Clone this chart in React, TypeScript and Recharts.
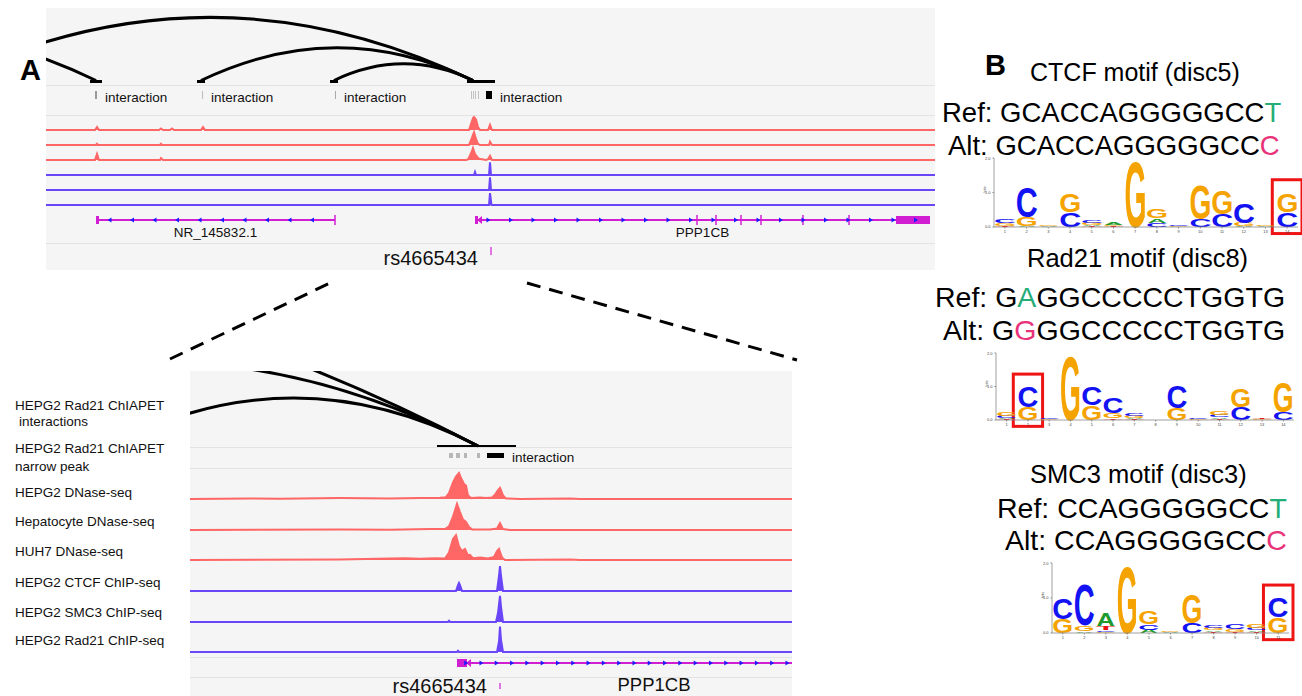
import React from 'react';
import { AreaChart, Area, BarChart, Bar, XAxis, YAxis, ReferenceArea } from 'recharts';

const FONT = '"Liberation Sans", Arial, Helvetica, sans-serif';
const RED = '#ff6666';
const BLUE = '#6a46f8';
const MAGENTA = '#d21ed2';
const ARROW = '#1c1cff';
const PANEL_BG = '#f5f5f5';
const SEP = '#e3e3e3';

type Span = [number, number];
type Pt = [number, number];

// ---------- panel A, top (window units 0..889) ----------
const topArcSpans: Span[] = [[-99, 427], [-400, 50], [155, 427], [288, 427]];
const topAnchorSpans: Span[] = [[44, 56], [151, 159], [284, 292], [421, 449]];
const topFeatureSpans: Span[] = [[49, 51], [156, 157], [289, 290], [425, 426], [427, 428], [429, 430], [432, 433], [440, 446]];
const topFeatureScores = [350, 200, 280, 180, 180, 180, 180, 1000];

const topHepg2Dnase: Pt[] = [[0, 0], [49, 0], [51, 20], [53, 0], [113, 0], [115, 10], [117, 0], [124, 0], [126, 10], [128, 0], [155, 0], [157, 20], [159, 0], [423, 0], [425, 40], [427, 80], [428, 87], [430, 70], [432, 20], [434, 0], [442, 0], [444, 35], [446, 0], [889, 0]];
const topHepatocyteDnase: Pt[] = [[0, 0], [50, 0], [51, 8], [52, 0], [114, 0], [115, 8], [116, 0], [423, 0], [426, 50], [428, 85], [430, 40], [432, 8], [434, 0], [443, 0], [444, 22], [446, 0], [889, 0]];
const topHuh7Dnase: Pt[] = [[0, 0], [49, 0], [51, 40], [53, 0], [114, 0], [115, 12], [117, 0], [420, 0], [422, 4], [424, 30], [426, 60], [427, 80], [429, 40], [431, 22], [433, 8], [436, 5], [440, 0], [442, 5], [444, 28], [446, 0], [889, 0]];
const topCtcf: Pt[] = [[0, 0], [428, 0], [429, 20], [430, 0], [443, 0], [444, 85], [445, 0], [889, 0]];
const topSmc3: Pt[] = [[0, 0], [443, 0], [444, 85], [445, 0], [889, 0]];
const topRad21: Pt[] = [[0, 0], [443, 0], [444, 80], [445.5, 0], [889, 0]];

const topGeneNames = ['NR_145832.1', 'PPP1CB'];
const topGeneSpans: Span[] = [[50, 289], [429, 884]];
const topGeneStrands = ['-', '+'];
const topGeneExons = [[289], [651, 670, 695, 715, 757, 803]];
const topGeneThick: Span[][] = [[[50, 53]], [[429, 432], [850, 884]]];
const topSnp = 445;

// ---------- panel A, bottom (zoomed window units 0..602) ----------
const botArcSpans: Span[] = [[-81, 288], [-360, 288], [-1212, 288]];
const botAnchorSpans: Span[] = [[247, 326]];
const botFeatureSpans: Span[] = [[259, 263], [266, 270], [274, 277], [287, 290], [297, 314]];
const botFeatureScores = [220, 220, 220, 220, 1000];

const botHepg2Dnase: Pt[] = [[0, 0], [60, 2], [90, 1], [150, 3], [200, 2], [230, 3], [250, 4], [256, 6], [259, 20], [263, 55], [266, 75], [269, 87], [271, 70], [274, 50], [276, 45], [278, 12], [281, 3], [290, 5], [296, 3], [302, 5], [305, 14], [308, 30], [310, 37], [313, 12], [316, 2], [330, 0], [380, 2], [390, 0], [602, 0]];
const botHepatocyteDnase: Pt[] = [[0, 0], [150, 2], [200, 1], [240, 3], [255, 3], [259, 12], [263, 45], [267, 87], [270, 60], [273, 35], [276, 27], [279, 10], [282, 2], [300, 2], [307, 5], [310, 23], [313, 3], [320, 0], [602, 0]];
const botHuh7Dnase: Pt[] = [[0, 0], [150, 2], [200, 5], [215, 6], [230, 4], [245, 6], [255, 5], [259, 25], [263, 70], [266, 83], [269, 45], [272, 30], [275, 37], [278, 15], [280, 17], [283, 6], [290, 8], [298, 5], [304, 10], [307, 30], [309, 37], [312, 8], [315, 0], [380, 2], [390, 0], [602, 0]];
const botCtcf: Pt[] = [[0, 0], [266, 0], [268, 20], [269, 27], [270, 20], [272, 0], [307, 0], [309, 50], [310, 83], [311, 50], [313, 0], [602, 0]];
const botSmc3: Pt[] = [[0, 0], [258, 0], [259, 4], [260, 0], [306, 0], [308, 30], [310, 87], [311, 50], [313, 0], [602, 0]];
const botRad21: Pt[] = [[0, 0], [267, 0], [268, 4], [269, 0], [307, 0], [309, 35], [310, 85], [311, 40], [313, 0], [602, 0]];

const botGeneNames = ['PPP1CB'];
const botGeneSpans: Span[] = [[267, 661]];
const botGeneStrands = ['+'];
const botGeneExons: number[][] = [[]];
const botGeneThick: Span[][] = [[[267, 277]]];
const botSnp = 310;

const snpName = 'rs4665434';
const featureName = 'interaction';
const trackLabels = ['HEPG2 Rad21 ChIAPET', ' interactions', 'HEPG2 Rad21 ChIAPET', 'narrow peak', 'HEPG2 DNase-seq', 'Hepatocyte DNase-seq', 'HUH7 DNase-seq', 'HEPG2 CTCF ChIP-seq', 'HEPG2 SMC3 ChIP-seq', 'HEPG2 Rad21 ChIP-seq'];

// ---------- panel B ----------
const motifTitles = ['CTCF motif (disc5)', 'Rad21 motif (disc8)', 'SMC3 motif (disc3)'];
const refSeqs = ['GCACCAGGGGGCCT', 'GAGGCCCCCTGGTG', 'CCAGGGGGCCT'];
const altSeqs = ['GCACCAGGGGGCCC', 'GGGGCCCCCTGGTG', 'CCAGGGGGCCC'];
const variantPos = [14, 2, 11];

type Col = [string, number][];
const ctcfLogo: Col[] = [
  [['T', 0.03], ['G', 0.08], ['C', 0.13]],
  [['A', 0.03], ['G', 0.27], ['C', 0.93]],
  [['A', 0.02], ['G', 0.03]],
  [['C', 0.44], ['G', 0.54]],
  [['T', 0.03], ['A', 0.04], ['G', 0.06], ['C', 0.08]],
  [['T', 0.03], ['G', 0.04], ['A', 0.06]],
  [['G', 1.98]],
  [['C', 0.12], ['A', 0.13], ['G', 0.29]],
  [['G', 0.03], ['C', 0.03]],
  [['C', 0.24], ['G', 1.02]],
  [['C', 0.38], ['G', 0.7]],
  [['A', 0.03], ['G', 0.1], ['C', 0.58]],
  [['A', 0.02], ['G', 0.04]],
  [['C', 0.44], ['G', 0.54]],
];
const rad21Logo: Col[] = [
  [['T', 0.03], ['A', 0.04], ['C', 0.06], ['G', 0.12]],
  [['G', 0.4], ['C', 0.65]],
  [['G', 0.02], ['C', 0.03]],
  [['G', 2.0]],
  [['G', 0.45], ['C', 0.55]],
  [['T', 0.05], ['G', 0.15], ['C', 0.5]],
  [['T', 0.03], ['A', 0.04], ['G', 0.06], ['C', 0.08]],
  [['C', 0.01]],
  [['G', 0.35], ['C', 0.7]],
  [['G', 0.02], ['C', 0.02]],
  [['T', 0.03], ['A', 0.05], ['C', 0.07], ['G', 0.1]],
  [['C', 0.4], ['G', 0.55]],
  [['G', 0.02], ['T', 0.02]],
  [['C', 0.25], ['G', 0.95]],
];
const smc3Logo: Col[] = [
  [['G', 0.41], ['C', 0.62]],
  [['A', 0.05], ['G', 0.17], ['C', 1.2]],
  [['G', 0.04], ['C', 0.04], ['T', 0.12], ['A', 0.38]],
  [['G', 2.0]],
  [['A', 0.1], ['C', 0.15], ['G', 0.38]],
  [['A', 0.02], ['G', 0.03]],
  [['C', 0.3], ['G', 0.85]],
  [['T', 0.03], ['A', 0.05], ['G', 0.06], ['C', 0.06]],
  [['T', 0.03], ['G', 0.08], ['C', 0.17]],
  [['T', 0.03], ['A', 0.05], ['C', 0.06], ['G', 0.1]],
  [['G', 0.45], ['C', 0.58]],
];

const LETTER_COLOR: Record<string, string> = { A: '#1f9a2e', C: '#1212f2', G: '#f5a300', T: '#e81212' };
const INK: Record<string, [number, number]> = { A: [0.72, 0.716], C: [0.63, 0.74], G: [0.68, 0.74], T: [0.57, 0.716] };

// ---------- shapes ----------
const arcShape = (base: number, k: number, sw: number) => (p: any) => {
  if (!p.payload?.arc) return <g />;
  const { x, width } = p;
  const h = k * width;
  return <path d={`M${x},${base} Q${x + width / 2},${base - 2 * h} ${x + width},${base}`} fill="none" stroke="#000" strokeWidth={sw} />;
};

const anchorShape = (base: number, t: number) => (p: any) => {
  if (!p.payload?.anchor) return <g />;
  return <rect x={p.x} y={base - t / 2} width={p.width} height={t} fill="#000" />;
};

const featureShape = (top: number, h: number, labelY: number, fs: number) => (p: any) => {
  if (!p.payload?.feat) return <g />;
  const g = Math.round(235 - (p.payload.score / 1000) * 235);
  return (
    <g>
      <rect x={p.x} y={top} width={Math.max(p.width, 1)} height={h} fill={`rgb(${g},${g},${g})`} />
      {p.payload.label ? (
        <text x={p.x + p.width + 8} y={labelY} fontSize={fs} fontFamily={FONT} fill="#111">{p.payload.label}</text>
      ) : null}
    </g>
  );
};

const geneShape = (lineY: number, labelY: number, fs: number, step: number) => (p: any) => {
  const { x, width, payload } = p;
  if (!payload?.span) return <g />;
  const [s, e] = payload.span;
  const k = width / (e - s);
  const px = (u: number) => x + (u - s) * k;
  const x1 = x + width;
  const arrows: number[] = [];
  for (let a = x + step * 0.6; a < x1 - step * 0.5; a += step) arrows.push(a);
  const head = px(payload.thick[0][1]);
  return (
    <g>
      <line x1={x} x2={x1} y1={lineY} y2={lineY} stroke={MAGENTA} strokeWidth={2} />
      {payload.thick.map(([ts, te]: Span, i: number) => (
        <rect key={`t${i}`} x={px(ts)} y={lineY - 4} width={px(te) - px(ts)} height={8} fill={MAGENTA} />
      ))}
      {payload.strand === '+' ? (
        <polygon points={`${head + 4},${lineY - 4} ${head - 1},${lineY} ${head + 4},${lineY + 4}`} fill={MAGENTA} />
      ) : null}
      {payload.exons.map((ex: number, i: number) => (
        <line key={`e${i}`} x1={px(ex)} x2={px(ex)} y1={lineY - 5} y2={lineY + 5} stroke={MAGENTA} strokeWidth={1.5} />
      ))}
      {arrows.map((a, i) => (
        <polygon
          key={`a${i}`}
          points={payload.strand === '-'
            ? `${a + 2},${lineY - 2.5} ${a - 2},${lineY} ${a + 2},${lineY + 2.5}`
            : `${a - 2},${lineY - 2.5} ${a + 2},${lineY} ${a - 2},${lineY + 2.5}`}
          fill={ARROW}
        />
      ))}
      <text x={(x + x1) / 2} y={labelY} textAnchor="middle" fontSize={fs} fontFamily={FONT} fill="#111">{payload.name}</text>
    </g>
  );
};

const snpShape = (t0: number, t1: number, textY: number) => (p: any) => {
  if (!p.payload?.span) return <g />;
  return (
    <g>
      <line x1={p.x} x2={p.x} y1={t0} y2={t1} stroke={MAGENTA} strokeWidth={1.2} />
      <text x={p.x - 13} y={textY} textAnchor="end" fontSize={20} fontFamily={FONT} fill="#111">{p.payload.name}</text>
    </g>
  );
};

const letterShape = (j: number) => (p: any) => {
  const { x, y, width, height, payload } = p;
  const l = payload?.[`l${j}`];
  if (!l || !(height > 0.2)) return <g />;
  const [iw, ih] = INK[l];
  const sx = (width * 0.96) / (iw * 100);
  const sy = height / (ih * 100);
  return (
    <text transform={`translate(${x + width / 2},${y + height}) scale(${sx},${sy})`} textAnchor="middle"
      fontFamily={FONT} fontWeight="bold" fontSize={100} fill={LETTER_COLOR[l]}>{l}</text>
  );
};

const boxShape = (p: any) => (
  <rect x={p.x - 4} y={p.y} width={p.width + 8} height={p.height} fill="none" stroke="#ee1414" strokeWidth={3} />
);

// ---------- builders ----------
function interactionRows(arcs: Span[], anchors: Span[], feats: Span[], scores: number[]) {
  const rows: any[] = [];
  arcs.forEach((s, i) => rows.push({ id: `a${i}`, arc: s }));
  anchors.forEach((s, i) => rows.push({ id: `n${i}`, anchor: s }));
  feats.forEach((s, i) => {
    const next = feats[i + 1];
    rows.push({ id: `f${i}`, feat: s, score: scores[i], label: !next || next[0] - s[1] > 20 ? featureName : '' });
  });
  return rows;
}

function geneRows(names: string[], spans: Span[], strands: string[], exons: number[][], thick: Span[][]) {
  return names.map((name, i) => ({ id: name, name, span: spans[i], strand: strands[i], exons: exons[i], thick: thick[i] }));
}

function RangeTrack({ rows, domain, left, top, width, height, bars }: any) {
  return (
    <div style={{ position: 'absolute', left, top, width, height }}>
      <BarChart layout="vertical" width={width} height={height} data={rows} margin={{ top: 0, right: 0, bottom: 0, left: 0 }} barCategoryGap={0}>
        <XAxis type="number" domain={domain} hide allowDataOverflow />
        <YAxis type="category" dataKey="id" hide />
        {bars.map((b: any) => (
          <Bar key={b.key} dataKey={b.key} shape={b.shape} isAnimationActive={false} />
        ))}
      </BarChart>
    </div>
  );
}

function SignalTrack({ data, domain, color, left, baseline, width, height }: any) {
  const rows = data.map(([x, v]: Pt) => ({ x, v }));
  return (
    <div style={{ position: 'absolute', left, top: baseline - height, width, height: height + 2 }}>
      <AreaChart width={width} height={height + 2} data={rows} margin={{ top: 0, right: 0, bottom: 2, left: 0 }}>
        <XAxis type="number" dataKey="x" domain={domain} hide allowDataOverflow />
        <YAxis domain={[0, 100]} hide />
        <Area type="linear" dataKey="v" stroke={color} strokeWidth={2} fill={color} fillOpacity={1}
          isAnimationActive={false} dot={false} activeDot={false} />
      </AreaChart>
    </div>
  );
}

function Logo({ cols, pos, left, top, width, height }: any) {
  const rows = cols.map((col: Col, i: number) => {
    const r: any = { pos: i + 1 };
    col.forEach(([l, h], j) => { r[`h${j}`] = h; r[`l${j}`] = l; });
    return r;
  });
  return (
    <div style={{ position: 'absolute', left, top, width, height }}>
      <BarChart width={width} height={height} data={rows} margin={{ top: 2, right: 8, bottom: 0, left: 0 }} barCategoryGap="5%">
        <XAxis dataKey="pos" interval={0} height={9} tickSize={1.5} tick={{ fontSize: 4, fill: '#444' }}
          axisLine={{ stroke: '#888', strokeWidth: 0.8 }} tickLine={{ stroke: '#888' }} />
        <YAxis type="number" domain={[0, 2]} ticks={[0, 1, 2]} width={12} tickSize={1.5}
          tickFormatter={(v: number) => v.toFixed(1)} tick={{ fontSize: 4, fill: '#444' }}
          axisLine={{ stroke: '#888', strokeWidth: 0.8 }} tickLine={{ stroke: '#888' }}
          label={{ value: 'bits', angle: -90, position: 'insideLeft', fontSize: 4, offset: 3, fill: '#444' }} />
        {[0, 1, 2, 3].map((j) => (
          <Bar key={j} dataKey={`h${j}`} stackId="s" shape={letterShape(j)} isAnimationActive={false} />
        ))}
        <ReferenceArea x1={pos} x2={pos} y1={-0.19} y2={1.37} ifOverflow="visible" shape={boxShape} />
      </BarChart>
    </div>
  );
}

// ---------- layout ----------
const TOP = { left: 46, top: 8, width: 889, height: 262, seps: [85, 115, 243], baselines: [130, 145, 160, 175, 190, 205] };
const BOT = { left: 190, top: 371, width: 602, height: 325, seps: [447, 468, 657, 677], baselines: [499, 530, 560, 591, 622, 652] };
const labelYs = [410, 426, 453, 471, 497, 526, 556, 587, 617, 645];
const motifLayout = [
  { title: [1030, 81, 25], ref: [942, 122, 27.5], alt: [948, 155, 27.5], logo: [982, 156, 324, 80] },
  { title: [1027, 267, 25.5], ref: [935, 307, 28.5], alt: [943, 340, 28.5], logo: [984, 351, 318, 78] },
  { title: [1030, 483, 25.5], ref: [997, 518, 28.5], alt: [1005, 550, 28.5], logo: [1040, 561, 257, 81] },
];

function SeqLine({ x, y, size, prefix, seq, idx, color }: any) {
  return (
    <text x={x} y={y} fontSize={size} fontFamily={FONT} fill="#000">
      {prefix}
      {seq.split('').map((c: string, i: number) => (
        <tspan key={i} fill={i === idx - 1 ? color : '#000'}>{c}</tspan>
      ))}
    </text>
  );
}

export default function App() {
  const topSignals = [topHepg2Dnase, topHepatocyteDnase, topHuh7Dnase, topCtcf, topSmc3, topRad21];
  const botSignals = [botHepg2Dnase, botHepatocyteDnase, botHuh7Dnase, botCtcf, botSmc3, botRad21];
  const logos = [ctcfLogo, rad21Logo, smc3Logo];
  return (
    <div style={{ position: 'fixed', left: 0, top: 0, width: 1302, height: 696, background: '#fff', overflow: 'hidden', fontFamily: FONT }}>
      {[TOP, BOT].map((P, i) => (
        <div key={i}>
          <div style={{ position: 'absolute', left: P.left, top: P.top, width: P.width, height: P.height, background: PANEL_BG }} />
          {P.seps.map((y) => (
            <div key={y} style={{ position: 'absolute', left: P.left, top: y, width: P.width, height: 1, background: SEP }} />
          ))}
        </div>
      ))}

      {/* top browser */}
      <RangeTrack rows={interactionRows(topArcSpans, topAnchorSpans, topFeatureSpans, topFeatureScores)} domain={[0, 889]}
        left={46} top={8} width={889} height={107}
        bars={[
          { key: 'arc', shape: arcShape(72.5, 0.12, 3) },
          { key: 'anchor', shape: anchorShape(73.5, 3) },
          { key: 'feat', shape: featureShape(83, 8, 94, 13.5) },
        ]} />
      {topSignals.map((d, i) => (
        <SignalTrack key={i} data={d} domain={[0, 889]} color={i < 3 ? RED : BLUE} left={46} baseline={TOP.baselines[i]} width={889} height={15} />
      ))}
      <RangeTrack rows={geneRows(topGeneNames, topGeneSpans, topGeneStrands, topGeneExons, topGeneThick)} domain={[0, 889]}
        left={46} top={210} width={889} height={33} bars={[{ key: 'span', shape: geneShape(10, 27, 13.5, 22.5) }]} />
      <RangeTrack rows={[{ id: snpName, name: snpName, span: [topSnp, topSnp + 0.1] }]} domain={[0, 889]}
        left={46} top={243} width={889} height={27} bars={[{ key: 'span', shape: snpShape(4, 12, 22) }]} />

      {/* bottom browser */}
      <RangeTrack rows={interactionRows(botArcSpans, botAnchorSpans, botFeatureSpans, botFeatureScores)} domain={[0, 602]}
        left={190} top={371} width={602} height={97}
        bars={[
          { key: 'arc', shape: arcShape(75, 0.13, 3) },
          { key: 'anchor', shape: anchorShape(75, 2) },
          { key: 'feat', shape: featureShape(82, 5, 91, 13.5) },
        ]} />
      {botSignals.map((d, i) => (
        <SignalTrack key={i} data={d} domain={[0, 602]} color={i < 3 ? RED : BLUE} left={190} baseline={BOT.baselines[i]} width={602} height={30} />
      ))}
      <RangeTrack rows={geneRows(botGeneNames, botGeneSpans, botGeneStrands, botGeneExons, botGeneThick)} domain={[0, 602]}
        left={190} top={657} width={602} height={39} bars={[{ key: 'span', shape: geneShape(6, 34, 18.5, 15.3) }]} />
      <RangeTrack rows={[{ id: snpName, name: snpName, span: [botSnp, botSnp + 0.1] }]} domain={[0, 602]}
        left={190} top={677} width={602} height={19} bars={[{ key: 'span', shape: snpShape(6, 12, 16) }]} />

      {/* motif logos */}
      {logos.map((cols, i) => {
        const [l, t, w, h] = motifLayout[i].logo;
        return <Logo key={i} cols={cols} pos={variantPos[i]} left={l} top={t} width={w} height={h} />;
      })}

      {/* text and zoom lines */}
      <svg width={1302} height={696} style={{ position: 'absolute', left: 0, top: 0, pointerEvents: 'none' }}>
        <text x={20} y={80} fontSize={29} fontWeight="bold" fontFamily={FONT}>A</text>
        <text x={985} y={75} fontSize={29} fontWeight="bold" fontFamily={FONT}>B</text>
        <line x1={170} y1={359} x2={330} y2={283} stroke="#000" strokeWidth={3} strokeDasharray="14 9" />
        <line x1={527} y1={283} x2={797} y2={360} stroke="#000" strokeWidth={3} strokeDasharray="14 9" />
        {trackLabels.map((t, i) => (
          <text key={i} x={t.startsWith(' ') ? 19 : 15} y={labelYs[i]} fontSize={13.5} fontFamily={FONT} fill="#111">{t.trim()}</text>
        ))}
        {motifTitles.map((t, i) => {
          const L = motifLayout[i];
          return (
            <g key={i}>
              <text x={L.title[0]} y={L.title[1]} fontSize={L.title[2]} fontFamily={FONT} fill="#000">{t}</text>
              <SeqLine x={L.ref[0]} y={L.ref[1]} size={L.ref[2]} prefix="Ref: " seq={refSeqs[i]} idx={variantPos[i]} color="#25ad78" />
              <SeqLine x={L.alt[0]} y={L.alt[1]} size={L.alt[2]} prefix="Alt: " seq={altSeqs[i]} idx={variantPos[i]} color="#e8327a" />
            </g>
          );
        })}
      </svg>
    </div>
  );
}
